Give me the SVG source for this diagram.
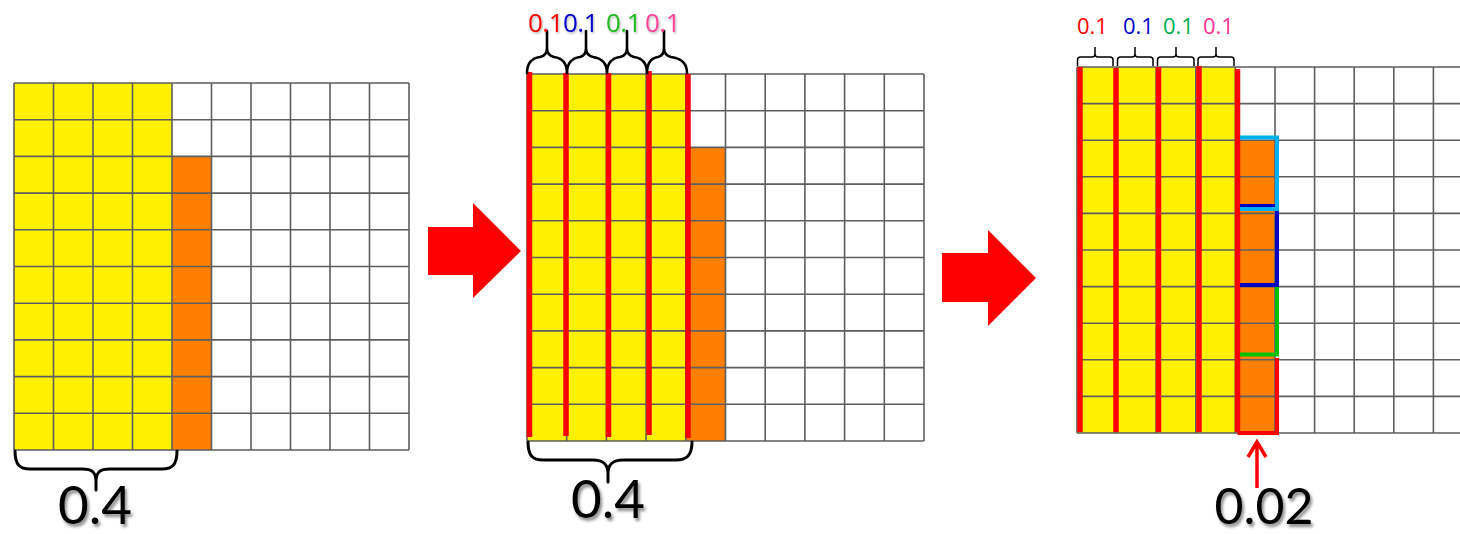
<svg xmlns="http://www.w3.org/2000/svg" width="1460" height="534" viewBox="0 0 1460 534">
<defs>
<style>
.grid{fill:none;stroke:#5e5e5e;stroke-width:1.6}
.yel{fill:#fff100}
.org{fill:#ff8000}
.rl{stroke:#ff0000;stroke-width:5.5;fill:none}
.brace{fill:none;stroke:#000;stroke-width:3;stroke-linecap:round;stroke-linejoin:round}
.brace2{fill:none;stroke:#000;stroke-width:2.6;stroke-linecap:round}
.brace3{fill:none;stroke:#000;stroke-width:1.5}
.big{font-family:Lato,"Liberation Sans",sans-serif;font-size:53px;fill:#000;text-anchor:middle;filter:url(#sh)}
.s1{font-family:"Open Sans","DejaVu Sans",sans-serif;font-size:26px;letter-spacing:-0.5px;filter:url(#sh2)}
.s3{font-family:"Open Sans","DejaVu Sans",sans-serif;font-size:22px}
.arrow{fill:#ff0000}
</style>
<filter id="sh" x="-20%" y="-20%" width="140%" height="150%">
<feDropShadow dx="2" dy="3" stdDeviation="1.6" flood-color="#000" flood-opacity="0.45"/>
</filter>
<filter id="sh2" x="-20%" y="-20%" width="140%" height="150%">
<feDropShadow dx="1" dy="1.5" stdDeviation="1" flood-color="#000" flood-opacity="0.3"/>
</filter>
</defs>
<rect width="1460" height="534" fill="#fff"/>

<g id="grid1">
<rect class="yel" x="14" y="83" width="158" height="367"/>
<rect class="org" x="172" y="156.4" width="39.5" height="293.6"/>
<path class="grid" d="M14,83V450M53.5,83V450M93,83V450M132.5,83V450M172,83V450M211.5,83V450M251,83V450M290.5,83V450M330,83V450M369.5,83V450M409,83V450M14,83H409M14,119.7H409M14,156.4H409M14,193.1H409M14,229.8H409M14,266.5H409M14,303.2H409M14,339.9H409M14,376.6H409M14,413.3H409M14,450H409"/>
<path class="brace" d="M15,451C15,465 20,469 30,469L82,469C92,469 96,472 96,482L96,490M96,482C96,472 100,469 110,469L162,469C172,469 177,465 177,451"/>
<text class="big" x="95" y="524">0.4</text>
</g>

<g id="arrow1">
<polygon class="arrow" points="428,227 473,227 473,203 521,251 473,298 473,275 428,275"/>
</g>

<g id="grid2">
<rect class="yel" x="527" y="74" width="158.8" height="367"/>
<rect class="org" x="685.8" y="147.4" width="39.7" height="293.6"/>
<path class="grid" d="M527,74V441M566.7,74V441M606.4,74V441M646.1,74V441M685.8,74V441M725.5,74V441M765.2,74V441M804.9,74V441M844.6,74V441M884.3,74V441M924,74V441M527,74H924M527,110.7H924M527,147.4H924M527,184.1H924M527,220.8H924M527,257.5H924M527,294.2H924M527,330.9H924M527,367.6H924M527,404.3H924M527,441H924"/>
<path class="rl" d="M529.5,72V437M566,73V436M608.5,73V437M649,71V435M688,74V438"/>
<path class="brace2" d="M527,73C527,62 533,58 540,57C545,56 547,53 547,48L547,31M547,48C547,53 550,56 554,57C561,58 567,62 567,73"/>
<path class="brace2" d="M567,73C567,62 573,58 580,57C584,56 586,53 586,48L586,31M586,48C586,53 589,56 593,57C600,58 607,62 607,73"/>
<path class="brace2" d="M607,73C607,62 613,58 620,57C625,56 627,53 627,48L627,31M627,48C627,53 630,56 634,57C641,58 647,62 647,73"/>
<path class="brace2" d="M647,73C647,62 652,58 658,57C662,56 664,53 664,48L664,31M664,48C664,53 667,56 671,57C679,58 687,62 687,73"/>
<text class="s1" x="528" y="32" fill="#ff0000">0.1</text>
<text class="s1" x="563" y="32" fill="#0000cc">0.1</text>
<text class="s1" x="606" y="32" fill="#22bb22">0.1</text>
<text class="s1" x="645" y="32" fill="#ff4499">0.1</text>
<path class="brace" d="M528,442C528,456 533,460 543,460L593,460C603,460 608,464 608,474L608,482M608,474C608,464 613,460 623,460L676,460C686,460 692,456 692,442"/>
<text class="big" x="608" y="518">0.4</text>
</g>

<g id="arrow2">
<polygon class="arrow" points="942,253 988,253 988,230 1036,278 988,326 988,302 942,302"/>
</g>

<g id="grid3">
<rect class="yel" x="1077" y="67" width="158.4" height="366"/>
<rect class="org" x="1235.4" y="140.2" width="39.6" height="292.8"/>
<path class="grid" d="M1077,67V433M1116.6,67V433M1156.2,67V433M1195.8,67V433M1235.4,67V433M1275,67V433M1314.6,67V433M1354.2,67V433M1393.8,67V433M1433.4,67V433M1077,67H1460M1077,103.6H1460M1077,140.2H1460M1077,176.8H1460M1077,213.4H1460M1077,250H1460M1077,286.6H1460M1077,323.2H1460M1077,359.8H1460M1077,396.4H1460M1077,433H1460"/>
<path class="rl" d="M1080,67V432M1116,68V432M1158.5,67V432M1199,66V432M1237.5,69V432"/>
<path d="M1240,205.5H1275" stroke="#0000c0" stroke-width="3" fill="none"/>
<path d="M1240,137.5H1277V209H1240" stroke="#00b0f0" stroke-width="4" fill="none"/>
<path d="M1277,211V285H1240" stroke="#0000c0" stroke-width="4" fill="none"/>
<path d="M1277,287V354.5H1240" stroke="#00c000" stroke-width="4" fill="none"/>
<path d="M1277,358V433H1237.5" stroke="#ff0000" stroke-width="4" fill="none"/>
<path class="brace3" d="M1077.5,66V60Q1077.5,57 1080.5,57H1092Q1095,57 1095,54V47M1095,54Q1095,57 1098,57H1110Q1113,57 1113,60V66"/>
<path class="brace3" d="M1117.5,66V60Q1117.5,57 1120.5,57H1132Q1135,57 1135,54V47M1135,54Q1135,57 1138,57H1150Q1153,57 1153,60V66"/>
<path class="brace3" d="M1157.5,66V60Q1157.5,57 1160.5,57H1173Q1176,57 1176,54V47M1176,54Q1176,57 1179,57H1191Q1194,57 1194,60V66"/>
<path class="brace3" d="M1198,66V60Q1198,57 1201,57H1213Q1216,57 1216,54V47M1216,54Q1216,57 1219,57H1231Q1234,57 1234,60V66"/>
<text class="s3" x="1077" y="34" fill="#ff0000">0.1</text>
<text class="s3" x="1123" y="34" fill="#0000cc">0.1</text>
<text class="s3" x="1163" y="34" fill="#00b050">0.1</text>
<text class="s3" x="1203" y="34" fill="#ff3399">0.1</text>
<path d="M1257,488V443M1248,457L1257,442L1266,457" stroke="#ff0000" stroke-width="3.5" fill="none"/>
<text class="big" x="1264" y="524" style="font-size:50px">0.02</text>
</g>
</svg>
